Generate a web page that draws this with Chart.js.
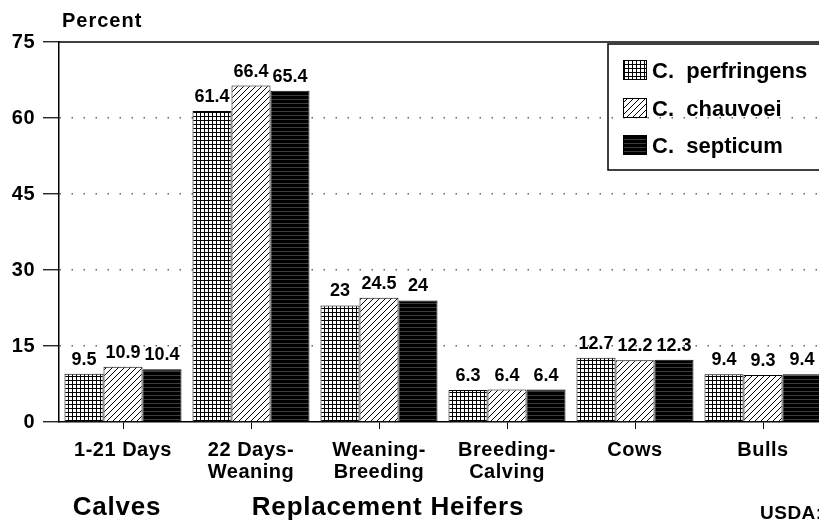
<!DOCTYPE html>
<html><head><meta charset="utf-8">
<script src="https://cdn.jsdelivr.net/npm/chart.js@4.4.1/dist/chart.umd.min.js"></script>
<style>
html,body{margin:0;padding:0;overflow:hidden;background:#fff;width:819px;height:522px}
#wrap{position:relative;width:840px;height:522px}
canvas{display:block}
</style>
</head><body><div id="wrap"><canvas id="c" width="840" height="522"></canvas></div>
<script>
const categories = [["1-21 Days"], ["22 Days-", "Weaning"], ["Weaning-", "Breeding"], ["Breeding-", "Calving"], ["Cows"], ["Bulls"]];
const seriesNames = ["C.  perfringens", "C.  chauvoei", "C.  septicum"];
const perfringens = [9.5, 61.4, 23, 6.3, 12.7, 9.4];
const chauvoei = [10.9, 66.4, 24.5, 6.4, 12.2, 9.3];
const septicum = [10.4, 65.4, 24, 6.4, 12.3, 9.4];
const yTicks = [0, 15, 30, 45, 60, 75];
const axisTitle = "Percent";
const groupLabels = ["Calves", "Replacement Heifers"];
const sourceNote = "USDA:APHIS:VS";

const FONT = "'Liberation Sans', Arial, Helvetica, sans-serif";

function makePattern(kind) {
  const c = document.createElement('canvas');
  const g = c.getContext('2d');
  if (kind === 'grid') {
    c.width = 4; c.height = 4;
    g.fillStyle = '#fff'; g.fillRect(0, 0, 4, 4);
    g.fillStyle = '#000'; g.fillRect(0, 0, 4, 1); g.fillRect(0, 0, 1, 4);
  } else if (kind === 'diag') {
    c.width = 6; c.height = 6;
    g.fillStyle = '#fff'; g.fillRect(0, 0, 6, 6);
    g.strokeStyle = '#000'; g.lineWidth = 1;
    g.beginPath();
    g.moveTo(-1, 7); g.lineTo(7, -1);
    g.moveTo(-1, 1); g.lineTo(1, -1);
    g.moveTo(5, 7); g.lineTo(7, 5);
    g.stroke();
  } else {
    c.width = 4; c.height = 4;
    g.fillStyle = '#000'; g.fillRect(0, 0, 4, 4);
    g.fillStyle = '#3c3c3c'; g.fillRect(0, 3, 4, 1);
  }
  return document.getElementById('c').getContext('2d').createPattern(c, 'repeat');
}
const patterns = [makePattern('grid'), makePattern('diag'), makePattern('solid')];

const topLinePlugin = {
  id: 'topLine',
  beforeDraw(chart) { chart.ctx.letterSpacing = '0.5px'; },
  afterDraw(chart) {
    const {ctx, chartArea} = chart;
    ctx.save();
    ctx.strokeStyle = '#000'; ctx.lineWidth = 1.5;
    ctx.beginPath();
    ctx.moveTo(chartArea.left, chartArea.top);
    ctx.lineTo(chartArea.right, chartArea.top);
    ctx.stroke();
    ctx.restore();
  }
};

const valueLabelPlugin = {
  id: 'valueLabels',
  afterDatasetsDraw(chart) {
    const ctx = chart.ctx;
    ctx.save();
    ctx.letterSpacing = '0px';
    ctx.font = 'bold 18px ' + FONT;
    ctx.fillStyle = '#000';
    ctx.textAlign = 'center';
    ctx.textBaseline = 'alphabetic';
    chart.data.datasets.forEach((ds, i) => {
      const meta = chart.getDatasetMeta(i);
      meta.data.forEach((bar, j) => {
        ctx.fillText(String(ds.data[j]), bar.x, bar.y - 9);
      });
    });
    ctx.restore();
  }
};

const legendPlugin = {
  id: 'boxLegend',
  afterDraw(chart) {
    const ctx = chart.ctx;
    const left = 608, top = 44, bottom = 170;
    ctx.save();
    ctx.letterSpacing = '0px';
    ctx.strokeStyle = '#000'; ctx.lineWidth = 1.5;
    ctx.strokeRect(left, top, 260, bottom - top);
    const rows = [70, 108, 145];
    ctx.font = 'bold 22px ' + FONT;
    ctx.fillStyle = '#000';
    ctx.textBaseline = 'alphabetic';
    ctx.textAlign = 'left';
    chart.data.datasets.forEach((ds, i) => {
      const cy = rows[i];
      ctx.fillStyle = ds.backgroundColor;
      ctx.fillRect(623, cy - 10, 24, 20);
      ctx.strokeStyle = '#000'; ctx.lineWidth = 1;
      ctx.strokeRect(623.5, cy - 9.5, 23, 19);
      ctx.fillStyle = '#000';
      ctx.fillText(ds.label, 652, cy + 8);
    });
    ctx.restore();
  }
};

const textPlugin = {
  id: 'texts',
  afterDraw(chart) {
    const ctx = chart.ctx;
    ctx.save();
    ctx.fillStyle = '#000';
    ctx.textBaseline = 'alphabetic';
    ctx.letterSpacing = '1px';
    ctx.font = 'bold 20px ' + FONT;
    ctx.textAlign = 'left';
    ctx.fillText(axisTitle, 62, 27);
    ctx.letterSpacing = '0.8px';
    ctx.font = 'bold 26px ' + FONT;
    ctx.textAlign = 'center';
    ctx.fillText(groupLabels[0], 117, 515);
    ctx.fillText(groupLabels[1], 388, 515);
    ctx.letterSpacing = '0.5px';
    ctx.font = 'bold 19px ' + FONT;
    ctx.textAlign = 'left';
    ctx.fillText(sourceNote, 760, 519);
    ctx.restore();
  }
};

new Chart(document.getElementById('c'), {
  type: 'bar',
  data: {
    labels: categories,
    datasets: [
      {label: seriesNames[0], data: perfringens, backgroundColor: patterns[0]},
      {label: seriesNames[1], data: chauvoei, backgroundColor: patterns[1]},
      {label: seriesNames[2], data: septicum, backgroundColor: patterns[2]}
    ].map(d => Object.assign(d, {borderColor: '#000', borderWidth: 1, categoryPercentage: 0.914, barPercentage: 1.0}))
  },
  options: {
    responsive: false,
    animation: false,
    devicePixelRatio: 1,
    layout: {padding: {left: 0, top: 42, right: 13, bottom: 0}},
    plugins: {legend: {display: false}, tooltip: {enabled: false}, title: {display: false}},
    scales: {
      x: {
        offset: true,
        grid: {offset: false, drawOnChartArea: false, drawTicks: true, tickLength: 7, tickColor: '#000', tickWidth: 1},
        border: {display: true, color: '#000', width: 1.5},
        ticks: {color: '#000', font: {family: FONT, size: 20, weight: 'bold', lineHeight: 1.1}, padding: 10, maxRotation: 0, autoSkip: false},
        afterFit: s => { s.height = 100; }
      },
      y: {
        min: 0, max: 75,
        afterBuildTicks: s => { s.ticks = yTicks.map(v => ({value: v})); },
        grid: {
          color: c => (c.tick && (c.tick.value === 0 || c.tick.value === 75)) ? 'rgba(0,0,0,0)' : '#666',
          lineWidth: 1.5, drawTicks: true, tickLength: 16, tickColor: '#000', tickWidth: 1.2, tickBorderDash: []
        },
        border: {display: true, color: '#000', width: 1.5, dash: [1.5, 10.5]},
        ticks: {color: '#000', font: {family: FONT, size: 20, weight: 'bold'}, padding: 8},
        afterFit: s => { s.width = 59; }
      }
    }
  },
  plugins: [topLinePlugin, valueLabelPlugin, legendPlugin, textPlugin]
});
</script>
</body></html>
